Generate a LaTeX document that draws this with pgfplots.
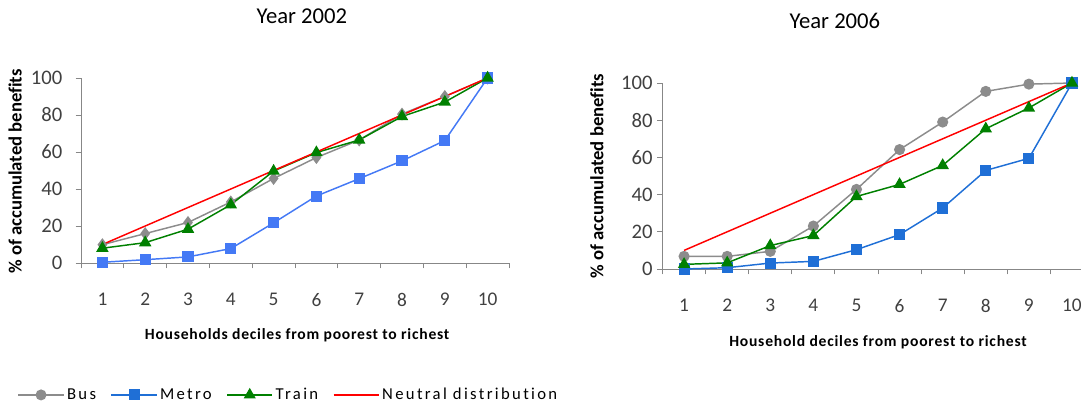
\documentclass[border=0pt]{standalone}
\usepackage{fontspec}
\setmainfont{Carlito}[Ligatures=NoCommon]
\newfontfamily\legfont[LetterSpace=14,Ligatures=NoCommon]{Carlito}
\newfontfamily\labfont[LetterSpace=5,Ligatures=NoCommon]{Carlito}
\usepackage{pgfplots}
\pgfplotsset{compat=1.18}

\definecolor{busgray}{HTML}{8C8C8C}
\definecolor{metroA}{HTML}{4479F5}
\definecolor{metroB}{HTML}{1F6FD6}
\definecolor{traingreen}{HTML}{008000}
\definecolor{axgray}{HTML}{878787}
\definecolor{ticktext}{HTML}{404040}

\pgfplotsset{
  decile/.style={
    scale only axis, clip=false,
    xmin=0.5, xmax=10.5, ymin=0, ymax=100,
    axis x line*=bottom, axis y line*=left,
    axis line style={-, draw=axgray, line width=0.7pt},
    xtick={1,...,10}, minor xtick={0.5,1.5,...,10.5},
    ytick={0,20,...,100},
    tick align=outside,
    major tick length=4pt, minor tick length=4pt,
    major x tick style={draw=none},
    tick style={draw=axgray, line width=0.7pt},
    xticklabel style={font=\fontsize{14.5}{16}\selectfont, text=ticktext, yshift=-15pt},
    yticklabel style={font=\fontsize{15.5}{17}\selectfont, text=ticktext},
    /pgf/number format/assume math mode=true,
    title style={font=\fontsize{17}{19}\selectfont, anchor=center},
    xlabel style={font=\labfont\bfseries\fontsize{11.7}{13}\selectfont, anchor=center},
    ylabel style={font=\bfseries\fontsize{14}{16}\selectfont, anchor=center},
    every axis plot/.append style={line width=1.1pt},
  },
  bus/.style={busgray, mark options={fill=busgray, draw=busgray}},
  train/.style={traingreen, mark=triangle*, mark size=4.3pt, mark options={fill=traingreen}},
  neutral/.style={red, no marks},
}

\begin{document}
\begin{tikzpicture}
\useasboundingbox (0pt,0pt) rectangle (810.75pt,-306pt);

% Year 2002
\begin{axis}[decile,
  at={(60.75pt,-197.25pt)}, anchor=south west,
  width=321pt, height=138.75pt,
  yticklabel style={xshift=-6.5pt},
  title={Year 2002}, title style={at={(axis description cs:0.516,1.288)}},
  xlabel={Households deciles from poorest to richest},
  xlabel style={at={(axis description cs:0.505,-0.389)}},
  ylabel={\% of accumulated benefits},
  ylabel style={at={(axis description cs:-0.154,0.495)}},
]
\addplot[bus, mark=diamond*, mark size=4pt] coordinates {
  (1,9.9) (2,15.9) (3,21.9) (4,33) (5,45.7) (6,57) (7,66.5) (8,80.5) (9,90) (10,100)};
\addplot[metroA, mark=square*, mark size=3.6pt, mark options={fill=metroA}] coordinates {
  (1,0.4) (2,1.8) (3,3.3) (4,7.8) (5,21.7) (6,36.2) (7,45.6) (8,55.2) (9,66.2) (10,100)};
\addplot[train] coordinates {
  (1,8) (2,11) (3,18.3) (4,31.5) (5,49.7) (6,59.7) (7,66.5) (8,79.2) (9,87) (10,100)};
\addplot[neutral] coordinates {
  (1,10) (2,20) (3,30) (4,40) (5,50) (6,60) (7,70) (8,80) (9,90) (10,100)};
\end{axis}

% Year 2006
\begin{axis}[decile,
  at={(496.9pt,-201.75pt)}, anchor=south west,
  width=323.25pt, height=139.5pt,
  yticklabel style={xshift=0pt},
  title={Year 2006}, title style={at={(axis description cs:0.40,1.29)}},
  xlabel={Household deciles from poorest to richest},
  xlabel style={at={(axis description cs:0.5,-0.392)}},
  ylabel={\% of accumulated benefits},
  ylabel style={at={(axis description cs:-0.152,0.5)}},
  legend columns=4,
  legend style={draw=none, fill=none, anchor=west,
    at={(axis description cs:-1.506,-0.677)},
    font=\legfont\fontsize{12.5}{14}\selectfont,
    /tikz/every even column/.append style={column sep=9pt}},
  legend image code/.code={\draw[mark repeat=2,mark phase=2,#1,line width=1pt]
    plot coordinates {(0pt,0pt)(17pt,0pt)(34pt,0pt)};},
]
\addplot[bus, mark=*, mark size=3.6pt] coordinates {
  (1,6.8) (2,6.8) (3,9.5) (4,23.1) (5,42.8) (6,64.2) (7,79) (8,95.5) (9,99.4) (10,100)};
\addlegendentry{Bus}
\addplot[metroB, mark=square*, mark size=3.6pt, mark options={fill=metroB}] coordinates {
  (1,0) (2,0.7) (3,3.2) (4,4.1) (5,10.4) (6,18.5) (7,32.8) (8,53) (9,59.5) (10,100)};
\addlegendentry{Metro}
\addplot[train] coordinates {
  (1,2.5) (2,3.3) (3,12.6) (4,18) (5,39) (6,45.5) (7,55.7) (8,75.4) (9,86.6) (10,100)};
\addlegendentry{Train}
\addplot[neutral] coordinates {
  (1,10) (2,20) (3,30) (4,40) (5,50) (6,60) (7,70) (8,80) (9,90) (10,100)};
\addlegendentry{Neutral distribution}
\end{axis}
\end{tikzpicture}
\end{document}
